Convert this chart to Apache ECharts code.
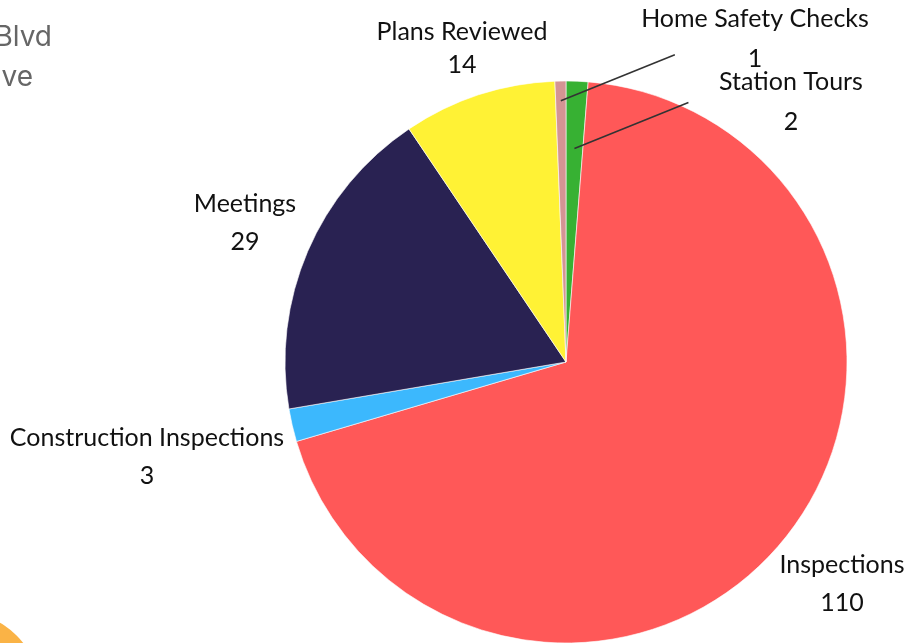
<!DOCTYPE html>
<html>
<head>
<meta charset="utf-8">
<script src="https://cdn.jsdelivr.net/npm/echarts@6/dist/echarts.min.js"></script>
<style>
  html, body { margin: 0; padding: 0; background: #fff; }
  #chart { width: 923px; height: 643px; }
</style>
</head>
<body>
<div id="chart"></div>
<script>
// slices, clockwise from 12 o'clock
const categories = ['Station Tours', 'Inspections', 'Construction Inspections', 'Meetings', 'Plans Reviewed', 'Home Safety Checks']
const values = [2, 110, 3, 29, 14, 1]
const colors = ['#37b133', '#ff5858', '#3cb8fd', '#292252', '#fff235', '#d49494']

// label centres (layout only)
const labelPos = {
  'Station Tours': [791, 102],
  'Inspections': [842, 584],
  'Construction Inspections': [147, 457],
  'Meetings': [245, 223],
  'Plans Reviewed': [462, 48],
  'Home Safety Checks': [755, 39]
}
const labelLineHeight = { 'Plans Reviewed': 33, 'Home Safety Checks': 40, 'Station Tours': 40 }
// leader lines: fraction of radius where the line starts
const leaderStart = { 'Home Safety Checks': 0.93, 'Station Tours': 0.76 }

const center = [566, 362]
const radius = 281

const chart = echarts.init(document.getElementById('chart'))

const sliceData = categories.map((name, i) => ({
  name,
  value: values[i],
  itemStyle: { color: colors[i] }
}))

// transparent copy on top, carries labels and leader lines
const labelData = categories.map((name, i) => ({
  name,
  value: values[i],
  labelLine: { show: !!leaderStart[name] },
  label: { lineHeight: labelLineHeight[name] || 38 }
}))

chart.setOption({
  animation: false,
  graphic: [
    {
      type: 'circle',
      shape: { cx: -40, cy: 692, r: 80 },
      style: { fill: '#fab346' }
    },
    {
      type: 'text',
      style: { text: 'Blvd', x: 52, y: 38, align: 'right', verticalAlign: 'middle', fontFamily: 'Inter', fontSize: 28, fill: '#666' }
    },
    {
      type: 'text',
      style: { text: 've', x: 33, y: 78, align: 'right', verticalAlign: 'middle', fontFamily: 'Inter', fontSize: 28, fill: '#666' }
    }
  ],
  series: [
    {
      type: 'pie',
      z: 2,
      center: center,
      radius: radius,
      startAngle: 90,
      clockwise: true,
      silent: true,
      label: { show: false },
      labelLine: { show: false },
      itemStyle: { borderColor: '#fff', borderWidth: 0.6 },
      data: sliceData
    },
    {
      type: 'pie',
      z: 5,
      center: center,
      radius: radius,
      startAngle: 90,
      clockwise: true,
      silent: true,
      avoidLabelOverlap: false,
      itemStyle: { color: 'rgba(0,0,0,0)', borderWidth: 0 },
      label: {
        show: true,
        position: 'outside',
        formatter: '{b}\n{c}',
        fontFamily: 'Lato',
        fontSize: 25,
        color: '#111',
        align: 'center'
      },
      labelLine: {
        lineStyle: { color: '#333', width: 1.6 }
      },
      labelLayout: function (params) {
        const name = categories[params.dataIndex]
        const pos = labelPos[name]
        const out = { x: pos[0], y: pos[1], align: 'center', verticalAlign: 'middle' }
        if (leaderStart[name] && params.labelLinePoints) {
          const p0 = params.labelLinePoints[0]
          const k = leaderStart[name]
          const sx = center[0] + (p0[0] - center[0]) * k
          const sy = center[1] + (p0[1] - center[1]) * k
          out.labelLinePoints = [[sx, sy], [sx + 57, sy - 23], [sx + 114, sy - 46]]
        }
        return out
      },
      data: labelData
    }
  ]
})
</script>
</body>
</html>
